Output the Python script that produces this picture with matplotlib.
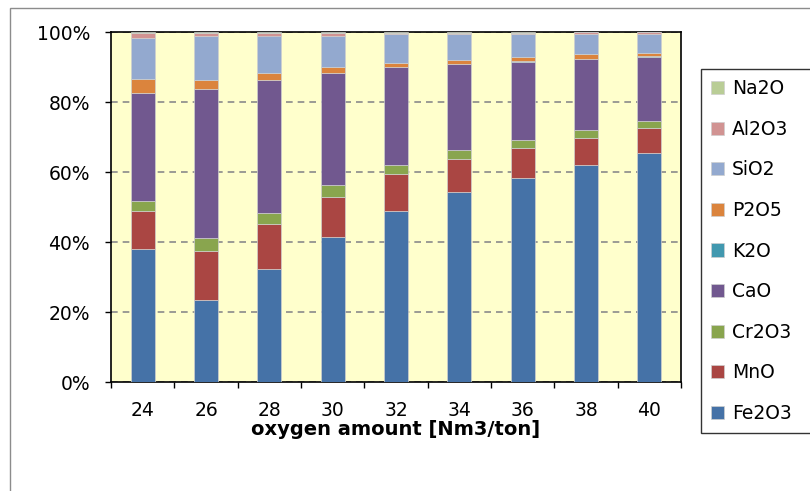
import numpy as np
import matplotlib
matplotlib.use("Agg")
import matplotlib.pyplot as plt
from matplotlib.patches import Rectangle

# oxygen blown per ton of steel
oxygen = ["24", "26", "28", "30", "32", "34", "36", "38", "40"]

# slag composition, percent of total mass
fe2o3 = [37.9, 23.4, 32.4, 41.5, 48.9, 54.2, 58.4, 62.0, 65.3]
mno   = [11.0, 13.9, 12.8, 11.4, 10.6,  9.5,  8.5,  7.7,  7.3]
cr2o3 = [ 2.8,  3.8,  3.2,  3.3,  2.5,  2.5,  2.2,  2.2,  1.9]
cao   = [30.8, 42.5, 37.8, 32.0, 27.9, 24.6, 22.4, 20.3, 18.5]
k2o   = [ 0.1,  0.1,  0.1,  0.1,  0.1,  0.1,  0.1,  0.1,  0.1]
p2o5  = [ 4.0,  2.5,  2.0,  1.6,  1.2,  1.1,  1.3,  1.3,  1.0]
sio2  = [11.7, 12.8, 10.7,  9.1,  8.3,  7.5,  6.6,  5.9,  5.4]
al2o3 = [ 1.5,  0.6,  0.7,  0.7,  0.3,  0.2,  0.2,  0.5,  0.5]
na2o  = [ 0.2,  0.4,  0.3,  0.3,  0.2,  0.3,  0.3,  0.0,  0.0]

series = [
    ("Fe2O3", fe2o3, "#4572A7"),
    ("MnO", mno, "#AA4643"),
    ("Cr2O3", cr2o3, "#89A54E"),
    ("CaO", cao, "#71588F"),
    ("K2O", k2o, "#4198AF"),
    ("P2O5", p2o5, "#DB843D"),
    ("SiO2", sio2, "#93A9CF"),
    ("Al2O3", al2o3, "#D19392"),
    ("Na2O", na2o, "#B9CD96"),
]

plt.rcParams["font.family"] = "DejaVu Sans"

W, H = 810, 491
fig = plt.figure(figsize=(W / 100, H / 100), dpi=100)
ax = fig.add_axes([111 / W, 1 - 382 / H, 570 / W, 350 / H])
ax.set_facecolor("#FFFFCC")

x = np.arange(len(oxygen))
bottom = np.zeros(len(oxygen))
handles = []
for name, vals, color in series:
    vals = np.array(vals)
    b = ax.bar(x, vals, 0.38, bottom=bottom, color=color,
               edgecolor="#cfcfcf", linewidth=0.5, label=name, zorder=3)
    bottom += vals
    handles.append(b)

ax.set_xlim(-0.5, len(oxygen) - 0.5)
ax.set_ylim(0, 100)
ax.set_yticks(np.arange(0, 101, 20))
ax.set_yticklabels([f"{v}%" for v in range(0, 101, 20)])
ax.yaxis.grid(True, color="#8a8a8a", linestyle=(0, (4, 3)), linewidth=1.2, zorder=1)
ax.set_axisbelow(True)

ax.set_xticks(x)
ax.set_xticklabels(oxygen)
ax.set_xticks(np.arange(-0.5, len(oxygen)), minor=True)
ax.tick_params(axis="x", which="major", length=0, pad=14, labelsize=13.5)
ax.tick_params(axis="x", which="minor", length=4, width=1, direction="out")
ax.tick_params(axis="y", length=4, width=1, direction="out", pad=11, labelsize=13.5)

for s in ax.spines.values():
    s.set_color("black")
    s.set_linewidth(1.2)

ax.set_xlabel("oxygen amount [Nm3/ton]", fontsize=14, fontweight="bold", labelpad=0)

leg = fig.legend(handles[::-1], [s[0] for s in series][::-1],
                 loc="upper left", mode="expand",
                 bbox_to_anchor=(701 / W, 0, 118 / W, 1 - 69 / H),
                 frameon=True, fancybox=False, edgecolor="black",
                 fontsize=13.5, handlelength=0.7, handleheight=0.7,
                 handletextpad=0.4, labelspacing=1.15, borderpad=0.55,
                 borderaxespad=0)
leg.get_frame().set_linewidth(1.0)

# chart area outline
fig.patches.append(Rectangle((10 / W, -0.2), 1.5, 1.2 - 8 / H,
                             transform=fig.transFigure, fill=False,
                             edgecolor="#8c8c8c", linewidth=1.0))

fig.savefig("out.png", dpi=100)
